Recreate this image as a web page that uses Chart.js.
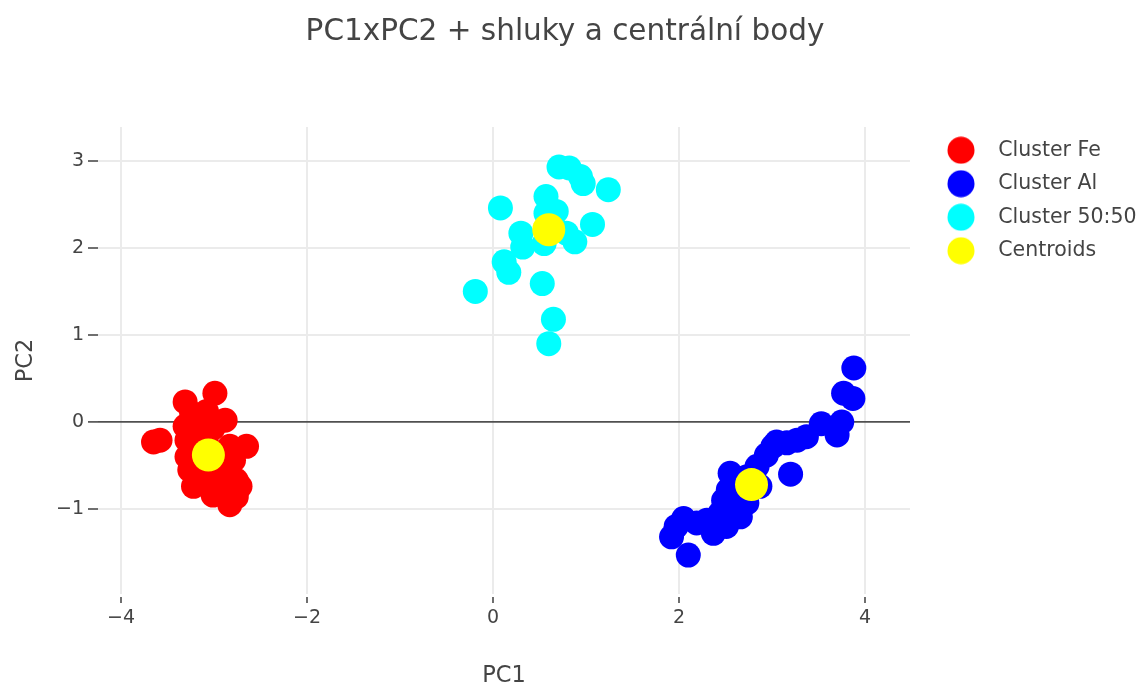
<!DOCTYPE html>
<html>
<head>
<meta charset="utf-8">
<title>PC1xPC2</title>
<script src="https://cdn.jsdelivr.net/npm/chart.js@4"></script>
<style>
  body { margin: 0; background: #fff; }
  canvas { display: block; }
</style>
</head>
<body>
<canvas id="pca" width="1143" height="687"></canvas>
<script>
// PCA scores [PC1, PC2] per cluster
const feScores = [
  [-2.99, 0.33], [-3.31, 0.23], [-3.24, 0.10], [-3.08, 0.12], [-2.88, 0.02],
  [-3.19, -0.05], [-3.01, -0.07], [-3.65, -0.23], [-3.58, -0.21], [-3.29, -0.21],
  [-2.65, -0.28], [-2.83, -0.28], [-3.29, -0.40], [-3.08, -0.24], [-2.79, -0.44],
  [-3.26, -0.55], [-3.15, -0.67], [-2.97, -0.59], [-2.76, -0.67], [-2.72, -0.74],
  [-2.90, -0.78], [-2.76, -0.86], [-2.83, -0.95], [-3.01, -0.84], [-3.12, -0.55],
  [-3.31, -0.05], [-3.22, -0.74]
];
const alScores = [
  [3.88, 0.62], [3.77, 0.33], [3.87, 0.27], [3.75, 0.00], [3.70, -0.15],
  [3.53, -0.02], [3.37, -0.17], [3.27, -0.21], [3.16, -0.24], [3.01, -0.28],
  [2.94, -0.38], [3.05, -0.23], [3.20, -0.60], [2.84, -0.51], [2.55, -0.59],
  [2.53, -0.78], [2.73, -0.63], [2.66, -0.86], [2.73, -0.93], [2.58, -1.01],
  [2.44, -1.05], [2.30, -1.13], [2.37, -1.28], [2.51, -1.20], [2.05, -1.11],
  [1.92, -1.32], [2.10, -1.53], [2.19, -1.16], [2.48, -0.90], [2.62, -0.74],
  [2.87, -0.74], [2.66, -1.09], [1.97, -1.20]
];
const mixScores = [
  [-0.19, 1.50], [0.08, 2.46], [0.57, 2.59], [0.71, 2.93], [0.82, 2.92],
  [0.94, 2.82], [0.97, 2.74], [1.24, 2.67], [1.07, 2.27], [0.57, 2.40],
  [0.68, 2.42], [0.30, 2.17], [0.32, 2.01], [0.55, 2.05], [0.88, 2.07],
  [0.79, 2.17], [0.12, 1.84], [0.17, 1.72], [0.53, 1.59], [0.65, 1.18],
  [0.60, 0.90]
];
const centroids = [[-3.06, -0.38], [2.78, -0.72], [0.60, 2.21]];

const seriesNames = ['Cluster Fe', 'Cluster Al', 'Cluster 50:50', 'Centroids'];
const xTicks = [-4, -2, 0, 2, 4];
const yTicks = [-1, 0, 1, 2, 3];

const FONT = 'DejaVu Sans';
const TEXT = '#444';

const toPoints = arr => arr.map(([x, y]) => ({ x, y }));
const minus = v => (v < 0 ? '\u2212' + Math.abs(v) : String(v));

// legend marker: circle drawn on a wider canvas so the label sits further right
function legendDot(color) {
  const c = document.createElement('canvas');
  c.width = 65;
  c.height = 28;
  const g = c.getContext('2d');
  g.fillStyle = color;
  g.beginPath();
  g.arc(38, 14, 13.5, 0, Math.PI * 2);
  g.fill();
  return c;
}

const colors = ['#ff0000', '#0000ff', '#00ffff', '#ffff00'];
const dots = colors.map(legendDot);

function dataset(i, scores, radius, order) {
  return {
    label: seriesNames[i],
    data: toPoints(scores),
    backgroundColor: colors[i],
    borderWidth: 0,
    pointRadius: radius,
    pointHoverRadius: radius,
    order: order
  };
}

new Chart(document.getElementById('pca'), {
  type: 'scatter',
  data: {
    datasets: [
      dataset(0, feScores, 12.5, 1),
      dataset(1, alScores, 12.5, 2),
      dataset(2, mixScores, 12.5, 3),
      dataset(3, centroids, 16.5, 0)
    ]
  },
  options: {
    responsive: false,
    animation: false,
    events: [],
    // negative left padding moves the centred title a little to the left
    layout: { padding: { left: -13 } },
    plugins: {
      tooltip: { enabled: false },
      title: {
        display: true,
        text: 'PC1xPC2 + shluky a centrální body',
        color: TEXT,
        font: { family: FONT, size: 29.5, weight: 'normal' },
        padding: { top: 14.3, bottom: 77.3 }
      },
      legend: {
        position: 'right',
        align: 'start',
        fullSize: false,
        maxWidth: 233,
        labels: {
          color: TEXT,
          font: { family: FONT, size: 20.5 },
          padding: 13,
          usePointStyle: true,
          pointStyleWidth: 65,
          sort: (a, b) => a.datasetIndex - b.datasetIndex,
          generateLabels: chart =>
            Chart.defaults.plugins.legend.labels.generateLabels(chart).map(item => {
              item.pointStyle = dots[item.datasetIndex];
              return item;
            })
        }
      }
    },
    scales: {
      x: {
        type: 'linear',
        min: -4.247,
        max: 4.484,
        afterBuildTicks: s => { s.ticks = xTicks.map(v => ({ value: v })); },
        afterFit: s => { s.height = 93; },
        border: { display: false },
        grid: {
          color: '#ebebeb',
          lineWidth: 2,
          tickColor: '#555',
          tickWidth: 1.7,
          tickLength: 9,
          tickBorderDash: [6, 3],
          tickBorderDashOffset: 6
        },
        ticks: {
          color: TEXT,
          font: { family: FONT, size: 19 },
          padding: 4,
          maxRotation: 0,
          callback: v => minus(v)
        },
        title: {
          display: true,
          text: 'PC1',
          color: TEXT,
          font: { family: FONT, size: 22.5 },
          padding: { top: 0, bottom: -3 }
        }
      },
      y: {
        type: 'linear',
        min: -1.977,
        max: 3.39,
        afterBuildTicks: s => { s.ticks = yTicks.map(v => ({ value: v })); },
        afterFit: s => { s.width = 111; },
        border: { display: false },
        grid: {
          color: c => (c.tick && c.tick.value === 0 ? '#505050' : '#ebebeb'),
          lineWidth: c => (c.tick && c.tick.value === 0 ? 1.8 : 2),
          tickColor: '#555',
          tickWidth: 1.7,
          tickLength: 10
        },
        ticks: {
          color: TEXT,
          font: { family: FONT, size: 19 },
          padding: 4,
          callback: v => minus(v)
        },
        title: {
          display: true,
          text: 'PC2',
          color: TEXT,
          font: { family: FONT, size: 22.5 },
          padding: { top: 25.5, bottom: 0 }
        }
      }
    }
  }
});
</script>
</body>
</html>
